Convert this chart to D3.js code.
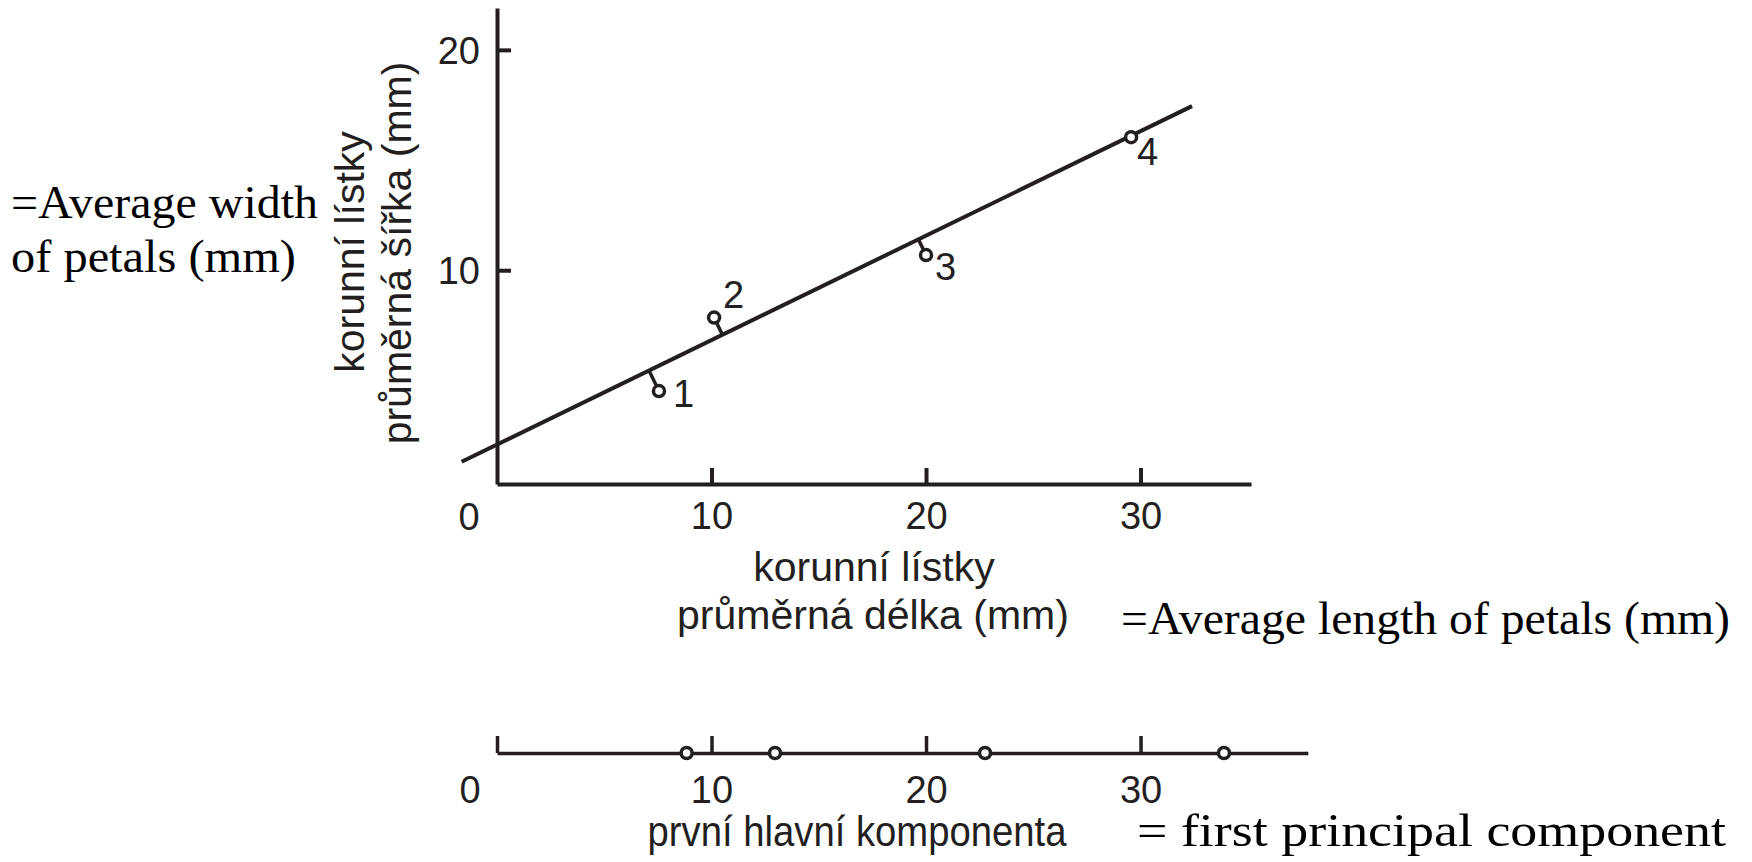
<!DOCTYPE html>
<html>
<head>
<meta charset="utf-8">
<script src="https://cdn.jsdelivr.net/npm/d3@7"></script>
<style>
  html, body { margin: 0; padding: 0; background: #ffffff; }
  svg { display: block; }
  .sans { font-family: "Liberation Sans", Arial, Helvetica, sans-serif; }
  .serif { font-family: "Liberation Serif", "Times New Roman", serif; }
</style>
</head>
<body>
<svg id="chart" width="1752" height="862"></svg>
<script>
// Average petal length / width of four plants (mm)
const plantIds = ["1", "2", "3", "4"];
const petalLength = [7.55, 10.12, 20.0, 29.56];
const petalWidth = [4.52, 7.85, 10.69, 16.04];

// Fitted line: width = intercept + slope * length
const fitIntercept = 2.09;
const fitSlope = 0.474;
const fitLengthRange = [-1.65, 32.4];

// Scores of the four plants on the first principal component
const pc1Scores = [8.84, 12.96, 22.75, 33.89];

// Tick values
const xTickValues = [10, 20, 30];
const yTickValues = [10, 20];
const pcTickValues = [0, 10, 20, 30];

// Axis extents
const xDomain = [0, 35.15];
const yDomain = [0.3, 21.9];
const pcDomain = [0, 37.8];

// Label offsets for the numbered points (px from the marker centre)
const idOffsets = [[14, 16], [9, -10], [9, 25], [6, 28]];

const ink = "#231f20";
const svg = d3.select("#chart");

const x = d3.scaleLinear().domain(xDomain).range([497, 1251]);
const y = d3.scaleLinear().domain(yDomain).range([484, 8]);
const pcScale = d3.scaleLinear().domain(pcDomain).range([x(pcDomain[0]), x(pcDomain[1])]);

function styleAxis(g, width, fontSize) {
  g.select(".domain").attr("stroke", ink).attr("stroke-width", width);
  g.selectAll(".tick line").attr("stroke", ink).attr("stroke-width", width);
  g.selectAll(".tick text")
    .attr("fill", ink)
    .attr("class", "sans")
    .style("font-size", fontSize + "px");
  g.attr("font-family", null).attr("font-size", null);
}

// ---- scatter plot axes ----
const gx = svg.append("g")
  .attr("transform", `translate(0,${y(yDomain[0])})`)
  .call(d3.axisBottom(x).tickValues(xTickValues).tickSizeInner(-16).tickSizeOuter(0).tickPadding(18));
styleAxis(gx, 4, 38);

const gy = svg.append("g")
  .attr("transform", `translate(${x(xDomain[0])},0)`)
  .call(d3.axisLeft(y).tickValues(yTickValues).tickSizeInner(-14).tickSizeOuter(0).tickPadding(17));
styleAxis(gy, 4, 38);
gy.selectAll(".tick text").attr("dy", "0.36em");

// shared origin label
svg.append("text").attr("class", "sans")
  .attr("x", x(0) - 28).attr("y", y(yDomain[0]) + 46)
  .attr("text-anchor", "middle").attr("fill", ink)
  .style("font-size", "38px").text("0");

// ---- fitted line ----
const fitLine = d3.line().x(d => x(d)).y(d => y(fitIntercept + fitSlope * d));
svg.append("path")
  .attr("d", fitLine(fitLengthRange))
  .attr("fill", "none").attr("stroke", ink).attr("stroke-width", 4);

// perpendicular stems from each point to the line (screen space)
const lx0 = x(fitLengthRange[0]), ly0 = y(fitIntercept + fitSlope * fitLengthRange[0]);
const lx1 = x(fitLengthRange[1]), ly1 = y(fitIntercept + fitSlope * fitLengthRange[1]);
const dxL = lx1 - lx0, dyL = ly1 - ly0, len2 = dxL * dxL + dyL * dyL;

const pts = plantIds.map((id, i) => {
  const px = x(petalLength[i]), py = y(petalWidth[i]);
  const t = ((px - lx0) * dxL + (py - ly0) * dyL) / len2;
  return { id, px, py, fx: lx0 + t * dxL, fy: ly0 + t * dyL, off: idOffsets[i] };
});

svg.append("g").selectAll("line").data(pts).join("line")
  .attr("x1", d => d.px).attr("y1", d => d.py)
  .attr("x2", d => d.fx).attr("y2", d => d.fy)
  .attr("stroke", ink).attr("stroke-width", 3.5);

svg.append("g").selectAll("circle").data(pts).join("circle")
  .attr("cx", d => d.px).attr("cy", d => d.py).attr("r", 5.5)
  .attr("fill", "#ffffff").attr("stroke", ink).attr("stroke-width", 3.5);

svg.append("g").selectAll("text").data(pts).join("text")
  .attr("class", "sans")
  .attr("x", d => d.px + d.off[0]).attr("y", d => d.py + d.off[1])
  .attr("fill", ink).style("font-size", "38px")
  .text(d => d.id);

// ---- axis titles ----
const xTitle = svg.append("text").attr("class", "sans")
  .attr("text-anchor", "middle").attr("fill", ink).style("font-size", "41px");
xTitle.append("tspan").attr("x", 874).attr("y", 581).text("korunní lístky");
xTitle.append("tspan").attr("x", 873).attr("y", 629).text("průměrná délka (mm)");

const yTitle = svg.append("g").attr("transform", "translate(0,252) rotate(-90)");
yTitle.append("text").attr("class", "sans").attr("text-anchor", "middle")
  .attr("x", 0).attr("y", 364).attr("fill", ink).style("font-size", "41px")
  .text("korunní lístky");
yTitle.append("text").attr("class", "sans").attr("text-anchor", "middle")
  .attr("x", -1).attr("y", 411).attr("fill", ink).style("font-size", "41px")
  .text("průměrná šířka (mm)");

// ---- first principal component axis ----
const pcY = 753;
const gpc = svg.append("g")
  .attr("transform", `translate(0,${pcY})`)
  .call(d3.axisBottom(pcScale).tickValues(pcTickValues)
    .tickFormat(d => d === 0 ? "" : d3.format("d")(d))
    .tickSizeInner(-17).tickSizeOuter(0).tickPadding(23));
styleAxis(gpc, 3.5, 38);

svg.append("text").attr("class", "sans")
  .attr("x", pcScale(0) - 27).attr("y", pcY + 50)
  .attr("text-anchor", "middle").attr("fill", ink)
  .style("font-size", "38px").text("0");

svg.append("g").selectAll("circle").data(pc1Scores).join("circle")
  .attr("cx", d => pcScale(d)).attr("cy", pcY).attr("r", 5.5)
  .attr("fill", "#ffffff").attr("stroke", ink).attr("stroke-width", 3.5);

svg.append("text").attr("class", "sans")
  .attr("x", 857).attr("y", 846).attr("text-anchor", "middle")
  .attr("fill", ink).style("font-size", "42px")
  .attr("textLength", 419).attr("lengthAdjust", "spacingAndGlyphs")
  .text("první hlavní komponenta");

// ---- English glosses ----
function gloss(xPos, yPos, width, str) {
  svg.append("text").attr("class", "serif").attr("fill", "#000")
    .style("font-size", "47px").attr("x", xPos).attr("y", yPos)
    .attr("textLength", width).attr("lengthAdjust", "spacingAndGlyphs")
    .text(str);
}
gloss(11, 218, 307, "=Average width");
gloss(11, 272, 285, "of petals (mm)");
gloss(1121, 634, 609, "=Average length of petals (mm)");
gloss(1137, 846, 589, "= first principal component");
</script>
</body>
</html>
